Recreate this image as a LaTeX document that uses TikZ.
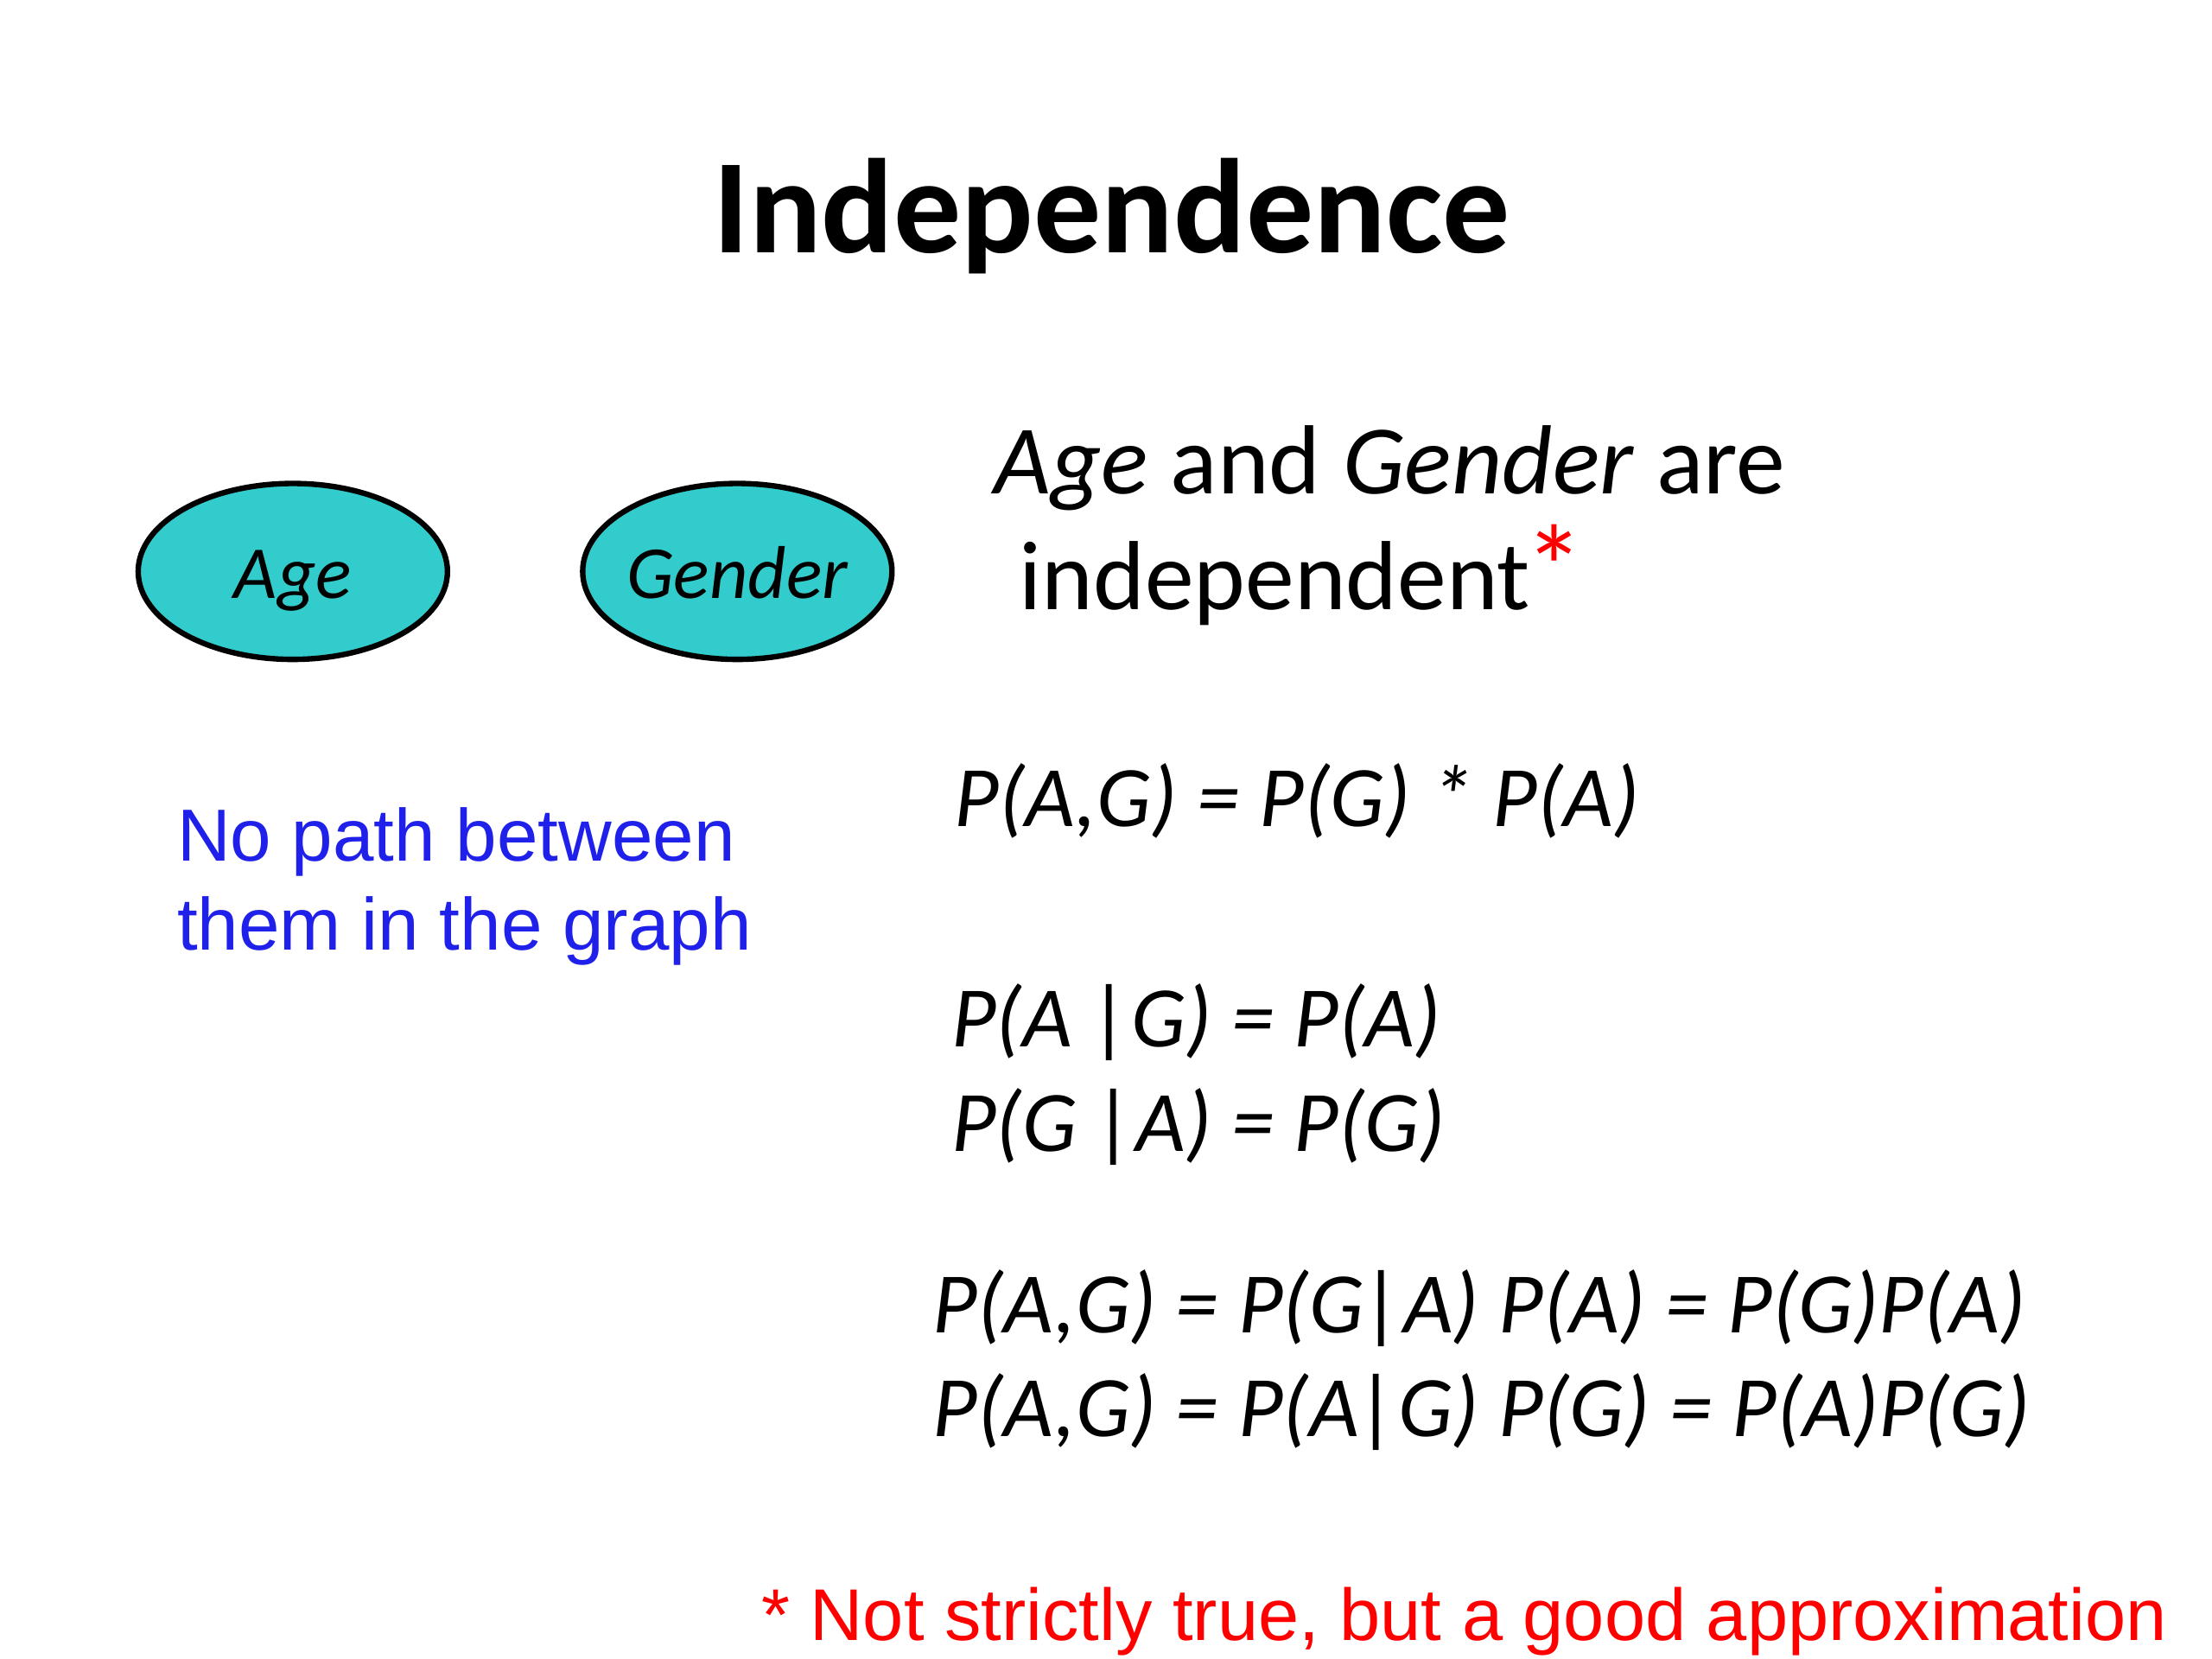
\documentclass[tikz,border=0pt]{standalone}
\usepackage{fontspec}
\setmainfont{Carlito}
\newfontfamily\arialf{Liberation Sans}
\definecolor{turq}{RGB}{51,204,204}
\definecolor{noteblue}{RGB}{32,32,235}
\definecolor{notered}{RGB}{255,0,0}
\tikzset{
  nodeell/.style={ellipse, draw=black, line width=1.1pt, fill=turq, minimum width=2.18cm, minimum height=1.24cm, inner sep=0pt, font=\fontsize{15}{18}\selectfont\itshape},
  txt/.style={anchor=base west, inner sep=0pt, outer sep=0pt},
  eqn/.style={txt, font=\fontsize{17.3}{21}\selectfont\itshape},
  body/.style={txt, font=\fontsize{19.7}{24}\selectfont},
  bluenote/.style={txt, text=noteblue, font=\fontsize{14.8}{18}\arialf},
  rednote/.style={txt, text=notered, font=\fontsize{14.7}{18}\arialf}
}
\usetikzlibrary{shapes.geometric}
\begin{document}
\begin{tikzpicture}[x=0.01cm, y=-0.01cm]
\useasboundingbox (0,0) rectangle (1560,1170);
\node[anchor=base, inner sep=0pt, font=\fontsize{27}{33}\selectfont\bfseries] (title) at (784,178) {Independence};
\node[nodeell] (age) at (206.5,403) {\smash{\raisebox{-0.19cm}{\makebox[0pt]{Age}}}};
\node[nodeell] (gender) at (520,403) {\smash{\raisebox{-0.19cm}{\makebox[0pt]{Gender}}}};
\node[bluenote] (nopath1) at (125,607) {No path between};
\node[bluenote] (nopath2) at (125,670) {them in the graph};
\node[body] (indep1) at (701,348) {\textit{Age} and \textit{Gender} are};
\node[body] (indep2) at (719,430) {independent\kern-0.04cm\textcolor{notered}{\fontsize{24}{24}\selectfont*}};
\node[eqn] (eq1) at (673,583) {P(A,G) = P(G) * P(A)};
\node[eqn] (eq2) at (671,738) {P(A |G) = P(A)};
\node[eqn] (eq3) at (671,812) {P(G |A) = P(G)};
\node[eqn] (eq4) at (658,940) {P(A,G) = P(G|A) P(A) = P(G)P(A)};
\node[eqn] (eq5) at (658,1013) {P(A,G) = P(A|G) P(G) = P(A)P(G)};
\node[rednote] (foot) at (537,1157) {* Not strictly true, but a good approximation};
\end{tikzpicture}
\end{document}
